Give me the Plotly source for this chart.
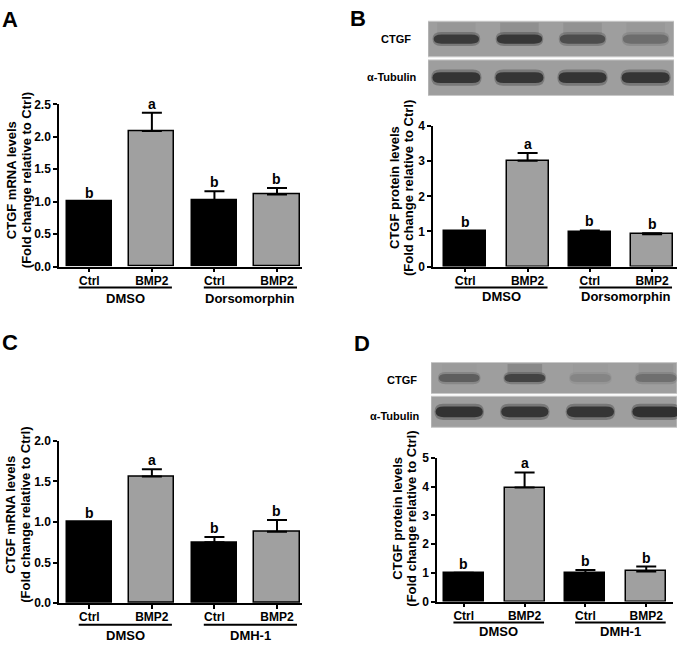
import plotly.graph_objects as go

# ---------------- data ----------------
categories = ["Ctrl", "BMP2", "Ctrl", "BMP2"]
groups_ab = ["DMSO", "Dorsomorphin"]
groups_cd = ["DMSO", "DMH-1"]

a_values = [1.00, 2.09, 1.02, 1.11]
a_errors = [0.00, 0.28, 0.14, 0.10]
a_letters = ["b", "a", "b", "b"]

b_values = [1.00, 3.01, 0.98, 0.92]
b_errors = [0.00, 0.22, 0.05, 0.03]
b_letters = ["b", "a", "b", "b"]

c_values = [1.00, 1.56, 0.75, 0.88]
c_errors = [0.00, 0.09, 0.065, 0.145]
c_letters = ["b", "a", "b", "b"]

d_values = [1.00, 3.97, 0.98, 1.05]
d_errors = [0.00, 0.53, 0.12, 0.17]
d_letters = ["b", "a", "b", "b"]

a_yticks = [0.0, 0.5, 1.0, 1.5, 2.0, 2.5]
b_yticks = [0, 1, 2, 3, 4]
c_yticks = [0.0, 0.5, 1.0, 1.5, 2.0]
d_yticks = [0, 1, 2, 3, 4, 5]

mrna_title = ["CTGF mRNA levels", "(Fold change relative to Ctrl)"]
protein_title = ["CTGF protein levels", "(Fold change relative to Ctrl)"]

blot_rows = ["α-Tubulin", "CTGF"]
# relative band darkness (0 = background, 1 = darkest), per lane
b_blot_ctgf = [0.86, 0.88, 0.70, 0.42]
b_blot_tubulin = [0.92, 0.90, 0.92, 0.90]
b_blot_smear = [0.10, 0.22, 0.18, 0.08]
d_blot_ctgf = [0.55, 0.78, 0.22, 0.40]
d_blot_tubulin = [0.93, 0.90, 0.90, 0.95]
d_blot_smear = [0.05, 0.35, 0.05, 0.12]

# ---------------- layout helpers ----------------
W, H = 685, 648
FONT = "Arial, Liberation Sans, sans-serif"


def fx(p):
    return p / W


def fy(p):
    return 1 - p / H


fig = go.Figure()
annotations = []
shapes = []

panels = [
    dict(key="", vals=a_values, errs=a_errors, letters=a_letters, yticks=a_yticks, fmt="{:.1f}",
         groups=groups_ab, xpx=(59, 302), ypx=(265.3, 99.5), xr=[-0.485, 3.40], bw=0.72,
         title=mrna_title, tx=(11, 26), ty=177, under=21.5, glab=33, label="A", lpos=(10, 13)),
    dict(key="2", vals=b_values, errs=b_errors, letters=b_letters, yticks=b_yticks, fmt="{:d}",
         groups=groups_ab, xpx=(433, 677), ypx=(265.3, 121.7), xr=[-0.52, 3.40], bw=0.675,
         title=protein_title, tx=(394, 408), ty=185, under=21.5, glab=31, label="B", lpos=(358, 12)),
    dict(key="3", vals=c_values, errs=c_errors, letters=c_letters, yticks=c_yticks, fmt="{:.1f}",
         groups=groups_cd, xpx=(59, 302), ypx=(609.3, 443.3), xr=[-0.485, 3.40], bw=0.72,
         title=mrna_title, tx=(11, 26), ty=519, under=22, glab=33.5, label="C", lpos=(10, 343)),
    dict(key="4", vals=d_values, errs=d_errors, letters=d_letters, yticks=d_yticks, fmt="{:d}",
         groups=groups_cd, xpx=(437, 673), ypx=(607.7, 461), xr=[-0.44, 3.44], bw=0.66,
         title=protein_title, tx=(398, 412), ty=523, under=21.5, glab=30.5, label="D", lpos=(362, 344)),
]

bar_fill = ["#000000", "#a0a0a0", "#000000", "#a0a0a0"]
xs = list(range(len(categories)))

for p in panels:
    k = p["key"]
    xa, ya = "x" + k, "y" + k
    fig.add_trace(go.Bar(
        x=xs, y=p["vals"], width=p["bw"], xaxis=xa, yaxis=ya,
        marker=dict(color=bar_fill, line=dict(color="black", width=1.5)),
        error_y=dict(type="data", array=p["errs"], arrayminus=[0] * len(xs), symmetric=False,
                     color="black", thickness=2, width=10),
        showlegend=False, hoverinfo="skip"))
    xaxis = dict(domain=[fx(p["xpx"][0]), fx(p["xpx"][1])], range=p["xr"], anchor=ya,
                 tickvals=xs, ticktext=categories, showline=True, linecolor="black", linewidth=1.5,
                 ticks="outside", ticklen=4, tickwidth=1.5, tickcolor="black",
                 ticklabelstandoff=-2,
                 tickfont=dict(family=FONT, size=12, color="black", weight="bold"),
                 showgrid=False, zeroline=False, fixedrange=True)
    yr = [0, p["yticks"][-1]]
    yaxis = dict(domain=[fy(p["ypx"][0]), fy(p["ypx"][1])], range=yr, anchor=xa,
                 tickvals=p["yticks"], ticktext=[p["fmt"].format(t) for t in p["yticks"]],
                 showline=True, linecolor="black", linewidth=1.5,
                 ticks="outside", ticklen=4, tickwidth=1.5, tickcolor="black",
                 tickfont=dict(family=FONT, size=12, color="black", weight="bold"),
                 showgrid=False, zeroline=False, fixedrange=True)
    fig.update_layout({"xaxis" + k: xaxis, "yaxis" + k: yaxis})

    # significance letters
    for i, (v, e, t) in enumerate(zip(p["vals"], p["errs"], p["letters"])):
        annotations.append(dict(x=i, y=v + e, xref=xa, yref=ya, text=t, showarrow=False,
                                yanchor="bottom", yshift=-1,
                                font=dict(family=FONT, size=14, color="black", weight="bold")))
    # group underlines and labels
    base = p["ypx"][0]
    for gi, g in enumerate(p["groups"]):
        i0, i1 = 2 * gi, 2 * gi + 1
        x0, x1 = i0 - 0.17, i1 + 0.32
        shapes.append(dict(type="line", xref=xa, yref="paper", x0=x0, x1=x1,
                           y0=fy(base + p["under"]), y1=fy(base + p["under"]),
                           line=dict(color="black", width=2)))
        annotations.append(dict(x=(x0 + x1) / 2, y=fy(base + p["glab"]), xref=xa, yref="paper",
                                text=g, showarrow=False, yanchor="middle",
                                font=dict(family=FONT, size=13, color="black", weight="bold")))
    # y-axis title (two lines)
    for line_txt, lx in zip(p["title"], p["tx"]):
        annotations.append(dict(x=fx(lx), y=fy(p["ty"]), xref="paper", yref="paper", text=line_txt,
                                textangle=-90, showarrow=False, xanchor="center", yanchor="middle",
                                font=dict(family=FONT, size=13, color="black", weight="bold")))
    # panel letter
    annotations.append(dict(x=fx(p["lpos"][0]), y=fy(p["lpos"][1]), xref="paper", yref="paper",
                            text=p["label"], showarrow=False, xanchor="center", yanchor="middle",
                            font=dict(family=FONT, size=22, color="black", weight="bold")))

# ---------------- western blots ----------------
BG = 158
DARK = 38


def gray(v, a=1.0):
    return "rgba({0},{0},{0},{1})".format(int(round(v)), a)


def band_path(xc, yc, hw, hh):
    rx = hw * 0.35
    x0, x1, y0, y1 = xc - hw, xc + hw, yc - hh, yc + hh
    return ("M {a},{y0} L {b},{y0} Q {x1},{y0} {x1},{yc} Q {x1},{y1} {b},{y1} "
            "L {a},{y1} Q {x0},{y1} {x0},{yc} Q {x0},{y0} {a},{y0} Z").format(
        a=x0 + rx, b=x1 - rx, x0=x0, x1=x1, y0=y0, y1=y1, yc=yc)


blots = [
    dict(k="5", ctgf=b_blot_ctgf, tub=b_blot_tubulin, smear=b_blot_smear,
         xpx=(428, 674), ypx=(92, 13), xr=[-0.45, 3.45],
         ctgf_hw=0.36, ctgf_hh=0.12, tub_hw=0.38, tub_hh=0.14,
         lab=[(392, 72), (396, 33)]),
    dict(k="6", ctgf=d_blot_ctgf, tub=d_blot_tubulin, smear=d_blot_smear,
         xpx=(431, 677), ypx=(431, 362), xr=[-0.43, 3.32],
         ctgf_hw=0.31, ctgf_hh=0.12, tub_hw=0.36, tub_hh=0.16,
         lab=[(395, 418), (402, 381)]),
]

for bl in blots:
    k = bl["k"]
    xa, ya = "x" + k, "y" + k
    fig.update_layout({
        "xaxis" + k: dict(domain=[fx(bl["xpx"][0]), fx(bl["xpx"][1])], range=bl["xr"], anchor=ya,
                          visible=False, fixedrange=True),
        "yaxis" + k: dict(domain=[fy(bl["ypx"][0]), fy(bl["ypx"][1])], range=[-0.5, 1.5], anchor=xa,
                          visible=False, fixedrange=True),
    })
    fig.add_trace(go.Scatter(x=[0], y=[0], xaxis=xa, yaxis=ya, mode="markers",
                             marker=dict(opacity=0), showlegend=False, hoverinfo="skip"))
    for r in range(len(blot_rows)):
        shapes.append(dict(type="rect", xref=xa, yref=ya, x0=bl["xr"][0], x1=bl["xr"][1],
                           y0=r - 0.46, y1=r + 0.46, fillcolor=gray(BG),
                           line=dict(color="#c8c8c8", width=1), layer="below"))
    for lane in range(len(bl["ctgf"])):
        s = bl["smear"][lane]
        shapes.append(dict(type="rect", xref=xa, yref=ya, x0=lane - bl["ctgf_hw"] * 0.85,
                           x1=lane + bl["ctgf_hw"] * 0.85, y0=1 + bl["ctgf_hh"], y1=1.42,
                           fillcolor=gray(DARK, s * 0.5), line=dict(width=0), layer="above"))
        for row, inten, hw, hh in ((1, bl["ctgf"][lane], bl["ctgf_hw"], bl["ctgf_hh"]),
                                   (0, bl["tub"][lane], bl["tub_hw"], bl["tub_hh"])):
            col = BG - inten * (BG - DARK)
            shapes.append(dict(type="path", xref=xa, yref=ya,
                               path=band_path(lane, row, hw * 1.05, hh * 1.5),
                               fillcolor=gray(col, 0.35), line=dict(width=0), layer="above"))
            shapes.append(dict(type="path", xref=xa, yref=ya,
                               path=band_path(lane, row, hw, hh),
                               fillcolor=gray(col, 0.95), line=dict(width=0), layer="above"))
    for name, (lx, ly) in zip(blot_rows, bl["lab"]):
        annotations.append(dict(x=fx(lx), y=fy(ly), xref="paper", yref="paper", text=name,
                                showarrow=False, xanchor="center", yanchor="middle",
                                font=dict(family=FONT, size=11, color="black", weight="bold")))

fig.update_layout(
    width=W, height=H, margin=dict(l=0, r=0, t=0, b=0),
    paper_bgcolor="white", plot_bgcolor="white",
    annotations=annotations, shapes=shapes, bargap=0,
)

fig.write_html("out.html", config={"displayModeBar": False},
               post_script="document.body.style.margin='0px';")
